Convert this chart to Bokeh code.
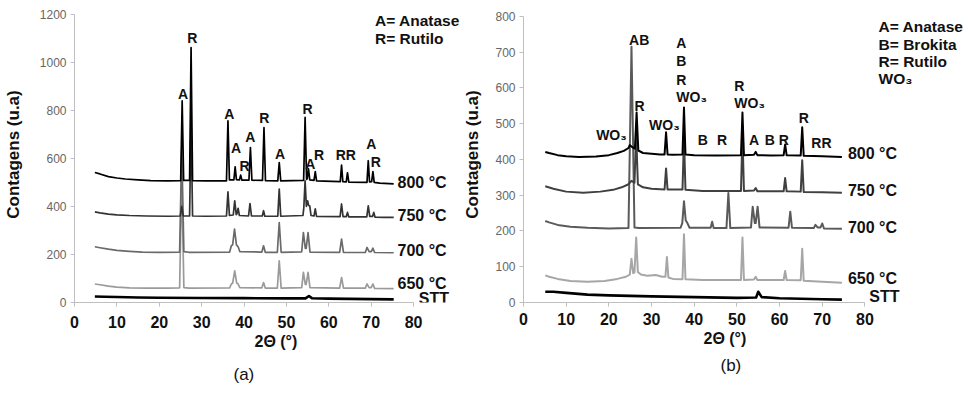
from bokeh.plotting import figure
from bokeh.layouts import row
from bokeh.models import Range1d, Title, FixedTicker
from bokeh.embed import file_html
from bokeh.resources import INLINE
from bokeh.core.properties import value

FONT = "Liberation Sans"

# ---------------- Panel (a) data: (2theta, counts) ----------------
a_800 = [(4.8,541),(6,535),(8,524),(10,518),(12,514),(15,510),(18,507),(22,506),(25.05,507),(25.4,839),(25.75,508),
         (27.15,508),(27.5,1061),(27.85,507),(31,506),(35.85,506),(36.2,756),(36.55,510),(37.6,510),(37.9,565),(38.2,511),
         (38.9,510),(39.2,530),(39.5,509),(41.15,509),(41.5,645),(41.85,509),(44.35,508),(44.7,728),(45.05,507),
         (47.95,506),(48.3,582),(48.65,506),(54.05,508),(54.4,770),(54.75,512),(54.9,515),(55.2,556),(55.5,510),
         (56.5,508),(56.8,545),(57.1,506),(62.7,503),(63.0,572),(63.3,503),(64.1,502),(64.4,540),(64.7,501),
         (69.0,500),(69.3,590),(69.6,502),(70.1,503),(70.4,545),(70.7,500),(72,497),(75.3,494)]
a_750 = [(4.8,377),(6,373),(8,368),(10,365),(13,362),(17,360),(22,359),(24.95,360),(25.3,400),(25.65,360),
         (27.15,360),(27.5,760),(27.85,360),(31,359),(35.85,360),(36.2,460),(36.55,362),(37.45,364),(37.8,423),
         (38.15,366),(38.3,368),(38.6,392),(38.9,362),(41.05,360),(41.4,412),(41.75,360),(44.3,360),(44.6,382),
         (44.9,359),(47.95,359),(48.3,472),(48.65,359),(53.9,362),(54.1,395),(54.4,506),(54.7,400),(55.0,423),
         (55.2,405),(55.5,402),(55.8,362),(56.5,360),(56.8,390),(57.1,358),(62.65,357),(63.0,410),(63.35,357),
         (64.1,357),(64.4,375),(64.7,356),(68.95,356),(69.3,402),(69.65,358),(70.3,358),(70.6,375),(70.9,355),
         (73,354),(75.3,354)]
a_700 = [(4.8,232),(6,228),(8,222),(10,217),(13,213),(16,210),(20,209),(24.8,210),(25.3,640),(25.8,212),(27,209),
         (36.6,210),(37.0,236),(37.3,240),(37.75,305),(38.2,240),(38.6,232),(39.0,212),(44.2,210),(44.6,236),
         (45.0,209),(47.85,209),(48.3,333),(48.75,209),(53.6,211),(54.0,291),(54.45,225),(54.65,225),(55.1,291),
         (55.55,210),(62.55,209),(63.0,264),(63.45,209),(68.6,208),(69.0,229),(69.5,212),(70.0,212),(70.4,226),
         (70.8,208),(75.3,207)]
a_650 = [(4.8,77),(6,74),(8,68),(10,64),(13,61),(17,60),(22,60),(24.8,61),(25.3,520),(25.8,62),(27,60),
         (36.6,61),(37.0,77),(37.3,80),(37.8,132),(38.25,82),(38.6,77),(39.0,62),(44.2,61),(44.6,83),(45.0,60),
         (47.85,60),(48.3,173),(48.75,60),(53.6,62),(54.0,125),(54.45,75),(54.65,75),(55.1,125),(55.55,62),
         (62.55,60),(63.0,104),(63.45,60),(68.6,60),(69.0,77),(69.5,62),(70.0,62),(70.4,77),(70.8,59),(75.3,58)]
a_stt = [(4.8,25),(7,24),(10,23),(15,21),(20,20),(30,19),(40,18),(50,17),(54.5,17),(55.3,27),(56,18),
         (60,16),(70,14),(75.3,13)]

a_peak_text = ["A", "R", "A", "A", "R", "A", "R", "A", "R", "A", "R", "RR", "A", "R"]
a_peak_x = [25.6, 27.8, 36.5, 38.1, 40.1, 41.5, 44.8, 48.5, 55.0, 55.6, 57.7, 64.0, 70.0, 71.1]
a_peak_y = [867, 1099, 784, 642, 569, 687, 767, 620, 805, 576, 615, 615, 659, 583]
a_temp_text = ["800 °C", "750 °C", "700 °C", "650 °C"]
a_temp_y = [498, 361, 215, 78]
a_legend = ["A= Anatase", "R= Rutilo"]
a_legend_y = [1172, 1099]
a_yticks = [0, 200, 400, 600, 800, 1000, 1200]

# ---------------- Panel (b) data ----------------
b_800 = [(5.1,421),(6,418),(8,412),(10,409),(13,407),(17,408),(20,412),(22,418),(23.5,424),(24.6,432),(24.9,440),
         (25.3,436),(26.1,430),(26.5,531),(26.9,425),(28,418),(30,416),(32,414),(33.05,414),(33.4,476),(33.75,414),
         (35,413),(37.25,414),(37.6,545),(37.95,414),(40,412),(45,411),(50.95,412),(51.3,531),(51.65,412),
         (54.0,413),(54.4,421),(54.8,412),(58,411),(60.95,412),(61.3,442),(61.65,412),(64.95,411),(65.3,490),
         (65.65,410),(70,409),(74.6,407)]
b_750 = [(5.1,325),(7,318),(10,310),(14,307),(18,310),(21,315),(23,322),(24.5,330),(25.3,340),(26.0,335),
         (26.4,470),(26.8,330),(28,322),(30,318),(33.05,316),(33.4,375),(33.75,316),(37.25,316),(37.6,460),
         (37.95,315),(42,312),(50.95,312),(51.3,470),(51.65,312),(54,313),(54.4,320),(54.8,311),(60.95,311),
         (61.3,348),(61.65,311),(64.95,310),(65.3,398),(65.65,309),(70,308),(74.6,307)]
b_700 = [(5.1,228),(6,224),(8,217),(11,212),(15,209),(20,207),(24.6,208),(25.3,715),(26.0,210),(27,208),
         (36.8,209),(37.2,222),(37.6,283),(38.0,230),(38.4,222),(38.9,209),(43.85,209),(44.2,226),(44.55,208),
         (47.55,208),(48.0,306),(48.45,208),(53.3,210),(53.7,268),(54.2,222),(54.4,222),(54.85,268),(55.3,210),
         (62.1,209),(62.5,254),(62.9,209),(68.0,208),(68.4,217),(68.9,210),(69.6,210),(70.0,221),(70.4,207),
         (74.6,206)]
b_650 = [(5.1,76),(6,72),(8,66),(11,60),(15,58),(19,60),(22,66),(24.0,72),(24.9,78),(25.3,122),(25.7,82),
         (26.0,84),(26.4,182),(26.8,85),(27.5,78),(29,75),(31,77),(32.5,72),(33.25,72),(33.6,127),(33.95,70),
         (35,66),(37.25,65),(37.6,191),(37.95,65),(42,63),(50.95,63),(51.3,182),(51.65,63),(54.0,64),(54.4,72),
         (54.8,63),(60.95,63),(61.3,88),(61.65,63),(64.95,62),(65.3,150),(65.65,61),(70,58),(74.6,55)]
b_stt = [(5.1,30),(7,30),(10,27),(15,22),(20,20),(30,17),(40,15),(50,13),(54.5,14),(55.0,30),(55.8,15),
         (60,12),(70,9),(74.6,8)]

b_peak_text = ["WO₃", "AB", "R", "WO₃", "B", "R", "A", "B", "R", "R", "RR"]
b_peak_x = [20.6, 27.1, 27.2, 33.0, 42.0, 46.5, 54.0, 57.7, 61.0, 65.7, 69.8]
b_peak_y = [467, 735, 550, 495, 453, 453, 453, 453, 453, 515, 447]
b_stack_text = ["A", "B", "R", "WO₃", "R", "WO₃"]
b_stack_x = [35.8, 35.8, 35.8, 35.8, 49.4, 49.4]
b_stack_y = [725, 674, 623, 575, 605, 557]
b_temp_text = ["800 °C", "750 °C", "700 °C", "650 °C"]
b_temp_y = [417, 313, 210, 67]
b_legend = ["A= Anatase", "B= Brokita", "R= Rutilo", "WO₃"]
b_legend_y = [772, 722, 673, 625]
b_yticks = [0, 100, 200, 300, 400, 500, 600, 700, 800]

x_ticks = [0, 10, 20, 30, 40, 50, 60, 70, 80]


def panel(width, border_left, border_bottom, x_end, y_end, y_max, yticks, label_standoff, tick_standoff):
    p = figure(width=width, height=396, output_backend="svg", toolbar_location=None,
               x_range=Range1d(0, x_end), y_range=Range1d(0, y_end),
               min_border_left=border_left, min_border_right=0, min_border_top=6,
               min_border_bottom=border_bottom)
    p.grid.visible = False
    p.outline_line_color = None
    xa = p.xaxis[0]
    xa.bounds = (0, 80)
    xa.ticker = FixedTicker(ticks=x_ticks)
    xa.minor_tick_line_color = None
    xa.axis_line_color = "#bfbfbf"
    xa.major_tick_line_color = "#bfbfbf"
    xa.major_tick_in = 0
    xa.major_tick_out = 4
    xa.major_label_standoff = tick_standoff
    xa.major_label_text_font = FONT
    xa.major_label_text_font_style = "bold"
    xa.major_label_text_font_size = "16px"
    xa.major_label_text_color = "#111111"
    ya = p.yaxis[0]
    ya.bounds = (0, y_max)
    ya.ticker = FixedTicker(ticks=yticks)
    ya.minor_tick_line_color = None
    ya.axis_line_color = "#bfbfbf"
    ya.major_tick_line_color = "#bfbfbf"
    ya.major_tick_in = 0
    ya.major_tick_out = 4
    ya.major_label_standoff = 4
    ya.major_label_text_font = FONT
    ya.major_label_text_font_size = "12px"
    ya.major_label_text_color = "#666666"
    ya.axis_label = "Contagens (u.a)"
    ya.axis_label_text_font = FONT
    ya.axis_label_text_font_style = "bold"
    ya.axis_label_text_font_size = "17px"
    ya.axis_label_text_color = "#111111"
    ya.axis_label_standoff = label_standoff
    return p


def curve(p, pts, color, width):
    xs = [q[0] for q in pts]
    ys = [q[1] for q in pts]
    p.line(xs, ys, line_color=color, line_width=width, line_join="round")


def texts(p, xs, ys, txt, size, align="center", bold=True):
    p.text(x=xs, y=ys, text=txt, text_font=value(FONT), text_font_size=size,
           text_font_style="bold" if bold else "normal", text_align=align,
           text_baseline="middle", text_color="#111111")


def below_titles(p, xlab_offset, xlab_standoff, sub, sub_offset, sub_standoff):
    p.add_layout(Title(text="2Θ (°)", align="left", offset=xlab_offset, standoff=xlab_standoff,
                       text_font=FONT, text_font_style="bold", text_font_size="16px",
                       text_color="#111111"), "below")
    p.add_layout(Title(text=sub, align="left", offset=sub_offset, standoff=sub_standoff,
                       text_font=FONT, text_font_style="normal", text_font_size="17px",
                       text_color="#111111"), "below")


# ---------- (a) ----------
pa = panel(460, 73, 94, 91.06, 1231.8, 1200, a_yticks, 14, 9)
curve(pa, a_stt, "#000000", 2.6)
curve(pa, a_650, "#9a9a9a", 1.7)
curve(pa, a_700, "#6a6a6a", 1.7)
curve(pa, a_750, "#333333", 1.7)
curve(pa, a_800, "#000000", 1.7)
texts(pa, a_peak_x, a_peak_y, a_peak_text, "14px")
texts(pa, [76.2] * 4, a_temp_y, a_temp_text, "16px", "left")
texts(pa, [81.2], [15], ["STT"], "16px", "left")
texts(pa, [70.9] * 2, a_legend_y, a_legend, "15.5px", "left")
below_titles(pa, 180, 1, "(a)", 159, 24)

# ---------- (b) ----------
pb = panel(508, 61, 90, 104.26, 827.6, 800, b_yticks, 10, 6)
curve(pb, b_stt, "#000000", 2.6)
curve(pb, b_650, "#a6a6a6", 2.0)
curve(pb, b_700, "#5a5a5a", 2.0)
curve(pb, b_750, "#404040", 2.0)
curve(pb, b_800, "#000000", 2.0)
texts(pb, b_peak_x, b_peak_y, b_peak_text, "14px")
texts(pb, b_stack_x, b_stack_y, b_stack_text, "14px", "left")
texts(pb, [76.0] * 4, b_temp_y, b_temp_text, "16px", "left")
texts(pb, [81.0], [17], ["STT"], "16px", "left")
texts(pb, [83.2] * 4, b_legend_y, b_legend, "15.5px", "left")
below_titles(pb, 180, 0, "(b)", 197, 15)

layout = row(pa, pb)
open("out.html", "w").write(file_html(layout, INLINE))
